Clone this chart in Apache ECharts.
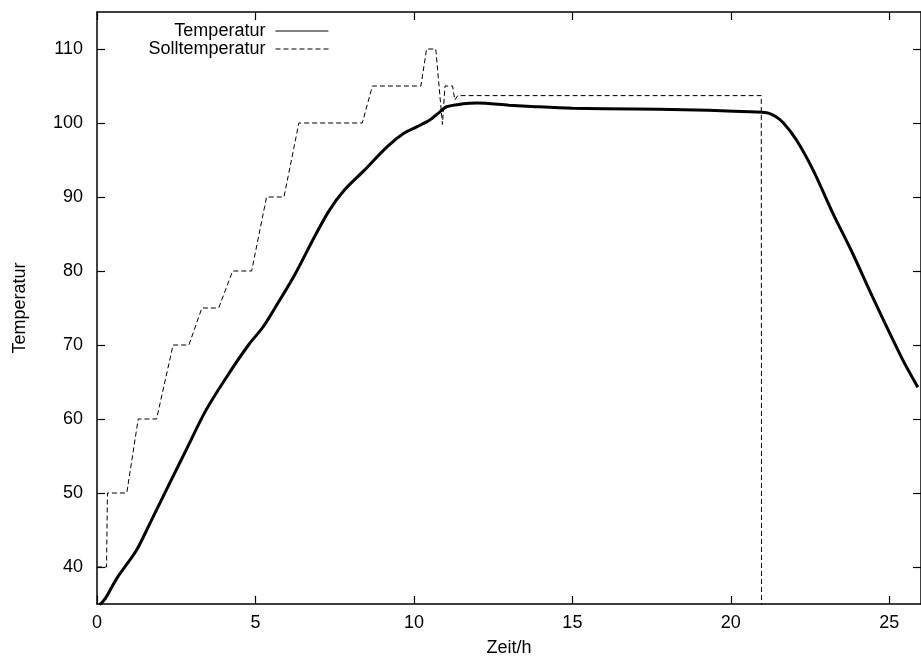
<!DOCTYPE html>
<html>
<head>
<meta charset="utf-8">
<script src="https://cdn.jsdelivr.net/npm/echarts@6/dist/echarts.min.js"></script>
<style>
html,body{margin:0;padding:0;background:#fff;}
#chart{width:921px;height:664px;}
</style>
</head>
<body>
<div id="chart"></div>
<script>
// Measured temperature [Zeit/h, Temperatur]
var temperatur = [
  [0.08, 34.9], [0.16, 35.2], [0.3, 36.0], [0.63, 38.5], [1.25, 42.3], [1.67, 45.9],
  [2.29, 51.3], [2.81, 55.8], [3.44, 61.2], [4.17, 66.2], [4.78, 70.0], [5.25, 72.5],
  [5.7, 75.6], [6.24, 79.5], [6.86, 84.6], [7.33, 88.2], [7.8, 90.9], [8.43, 93.6],
  [9.16, 96.8], [9.68, 98.6], [10.1, 99.5], [10.5, 100.4], [10.82, 101.5], [11.03, 102.2],
  [11.55, 102.6], [12.0, 102.7], [13.0, 102.4], [13.84, 102.2], [15.0, 102.0], [16.97, 101.9],
  [18.5, 101.8], [20.09, 101.6], [21.13, 101.4], [21.4, 100.9], [21.66, 100.0], [22.07, 97.7],
  [22.6, 93.6], [23.22, 87.8], [23.84, 82.4], [24.47, 76.5], [25.4, 68.2], [25.9, 64.3]
];
// Setpoint [Zeit/h, Solltemperatur]
var solltemperatur = [
  [0, 40], [0.3, 40], [0.33, 50], [0.94, 50], [1.3, 60], [1.88, 60], [2.4, 70], [2.9, 70],
  [3.31, 75], [3.84, 75], [4.28, 80], [4.88, 80], [5.35, 90], [5.9, 90], [6.37, 100],
  [8.37, 100], [8.69, 105], [10.22, 105], [10.4, 110], [10.69, 110], [10.9, 99.8],
  [10.98, 105], [11.22, 105], [11.29, 103.1], [11.38, 103.7], [20.96, 103.7], [20.97, 30]
];
var xTicks = [0, 5, 10, 15, 20, 25];
var yTicks = [40, 50, 60, 70, 80, 90, 100, 110];

var font = 'Liberation Sans, Arial, Helvetica, sans-serif';
var axisLineStyle = {color: '#000', width: 1.5};
var chart = echarts.init(document.getElementById('chart'), null, {renderer: 'canvas'});
var legendBase = {
  orient: 'vertical', align: 'right', right: 592, itemWidth: 53, itemHeight: 10, padding: 0,
  itemStyle: {opacity: 0, borderWidth: 0},
  textStyle: {fontFamily: font, fontSize: 18, color: '#000', lineHeight: 18, padding: [0, 5, 0, 0]}
};
var option = {
  animation: false,
  backgroundColor: '#fff',
  textStyle: {fontFamily: font, color: '#000'},
  grid: {left: 97, top: 12, bottom: 60, right: -7, containLabel: false},
  legend: [
    Object.assign({}, legendBase, {data: ['Temperatur'], top: 22, lineStyle: {width: 1.2, opacity: 1}}),
    Object.assign({}, legendBase, {data: ['Solltemperatur'], top: 40, lineStyle: {width: 1, opacity: 1}})
  ],
  xAxis: [
    {
      type: 'value', min: 0, max: 26, position: 'bottom',
      name: 'Zeit/h', nameLocation: 'middle', nameGap: 35,
      nameTextStyle: {fontFamily: font, fontSize: 18, color: '#000'},
      axisLine: {show: true, onZero: false, lineStyle: axisLineStyle},
      axisTick: {show: true, inside: true, length: 8, customValues: xTicks, lineStyle: {color: '#000', width: 1.2}},
      axisLabel: {show: true, customValues: xTicks, margin: 10, fontFamily: font, fontSize: 18, color: '#000'},
      splitLine: {show: false}
    },
    {
      type: 'value', min: 0, max: 26, position: 'top',
      axisLine: {show: true, onZero: false, lineStyle: axisLineStyle},
      axisTick: {show: true, inside: true, length: 8, customValues: xTicks, lineStyle: {color: '#000', width: 1.2}},
      axisLabel: {show: false},
      splitLine: {show: false}
    }
  ],
  yAxis: [
    {
      type: 'value', min: 35, max: 115, position: 'left',
      name: 'Temperatur', nameLocation: 'middle', nameGap: 68, nameRotate: 90,
      nameTextStyle: {fontFamily: font, fontSize: 18, color: '#000'},
      axisLine: {show: true, onZero: false, lineStyle: axisLineStyle},
      axisTick: {show: true, inside: true, length: 8, customValues: yTicks, lineStyle: {color: '#000', width: 1.2}},
      axisLabel: {show: true, customValues: yTicks, margin: 14, fontFamily: font, fontSize: 18, color: '#000'},
      splitLine: {show: false}
    },
    {
      type: 'value', min: 35, max: 115, position: 'right',
      axisLine: {show: true, onZero: false, lineStyle: axisLineStyle},
      axisTick: {show: true, inside: true, length: 8, customValues: yTicks, lineStyle: {color: '#000', width: 1.2}},
      axisLabel: {show: false},
      splitLine: {show: false}
    }
  ],
  series: [
    {
      name: 'Temperatur', type: 'line', data: temperatur,
      xAxisIndex: 0, yAxisIndex: 0,
      symbol: 'none', showSymbol: false, smooth: 0.3, clip: true,
      lineStyle: {color: '#000', width: 3, type: 'solid'},
      itemStyle: {color: '#000'}, z: 3
    },
    {
      name: 'Solltemperatur', type: 'line', data: solltemperatur,
      xAxisIndex: 0, yAxisIndex: 0,
      symbol: 'none', showSymbol: false, smooth: false, clip: true,
      lineStyle: {color: '#000', width: 1, type: [5, 3]},
      itemStyle: {color: '#000'}, z: 2
    }
  ]
};
chart.setOption(option);
</script>
</body>
</html>
